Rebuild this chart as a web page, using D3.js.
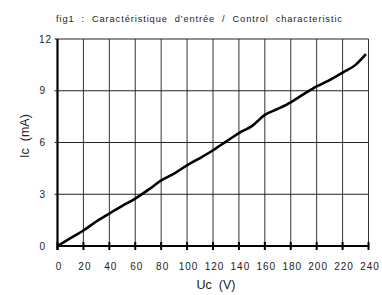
<!DOCTYPE html>
<html><head><meta charset="utf-8">
<script src="https://cdn.jsdelivr.net/npm/d3@7"></script>
<style>body{margin:0;background:#fff}svg{display:block;font-family:"Liberation Sans",Arial,sans-serif}</style>
</head><body><svg id="c" width="382" height="295"></svg>
<script>
const uc = [0,10,20,30,40,50,60,70,80,90,100,110,120,130,140,150,160,170,180,190,200,210,220,230,238];
const ic = [0,0.45,0.9,1.42,1.88,2.32,2.75,3.25,3.8,4.2,4.68,5.1,5.55,6.05,6.55,6.95,7.6,7.95,8.33,8.8,9.25,9.62,10.05,10.5,11.12];
const xTicks = [0,20,40,60,80,100,120,140,160,180,200,220,240];
const yTicks = [0,3,6,9,12];
const title = "fig1  :  Caractéristique  d'entrée  /  Control  characteristic";

const svg = d3.select("#c");
const x = d3.scaleLinear().domain([0,240]).range([57.5,368.5]);
const y = d3.scaleLinear().domain([0,12]).range([246,39]);

svg.append("text").attr("x",56).attr("y",22).attr("font-size",9.3).attr("fill","#222")
  .attr("textLength",286).attr("lengthAdjust","spacing")
  .style("white-space","pre").text(title);

const g = svg.append("g");
g.selectAll("line.v").data(xTicks.slice(1)).join("line")
  .attr("x1",d=>x(d)).attr("x2",d=>x(d)).attr("y1",y(12)).attr("y2",y(0))
  .attr("stroke","#333").attr("stroke-width",1);
g.selectAll("line.h").data(yTicks.slice(1)).join("line")
  .attr("x1",x(0)-3).attr("x2",x(240)).attr("y1",d=>y(d)).attr("y2",d=>y(d))
  .attr("stroke","#222").attr("stroke-width",1);
g.append("line").attr("x1",x(0)).attr("x2",x(240)).attr("y1",y(0)).attr("y2",y(0)).attr("stroke","#000").attr("stroke-width",2);
g.selectAll("line.t").data(xTicks).join("line")
  .attr("x1",d=>x(d)).attr("x2",d=>x(d)).attr("y1",y(0)-4).attr("y2",y(0)+4)
  .attr("stroke","#000").attr("stroke-width",2);
g.append("line").attr("x1",x(0)).attr("x2",x(0)).attr("y1",y(12)).attr("y2",y(0)+4).attr("stroke","#000").attr("stroke-width",2.2);

g.selectAll("text.x").data(xTicks).join("text")
  .attr("x",d=>x(d)+1.5).attr("y",270).attr("text-anchor","middle").attr("font-size",10)
  .attr("letter-spacing",1).attr("fill","#222").text(d=>d);
g.selectAll("text.y").data(yTicks).join("text")
  .attr("x",d=>d>=10?52:46).attr("y",d=>y(d)+3.5).attr("text-anchor","end").attr("font-size",10)
  .attr("letter-spacing",1).attr("fill","#222").text(d=>d);

svg.append("text").attr("x",216).attr("y",289).attr("text-anchor","middle").attr("font-size",12.5)
  .attr("fill","#222").style("white-space","pre").text("Uc  (V)");
svg.append("text").attr("transform","translate(29,136) rotate(-90)").attr("text-anchor","middle")
  .attr("font-size",12.5).attr("fill","#222").style("white-space","pre").text("Ic  (mA)");

const line = d3.line().x((d,i)=>x(uc[i])).y(d=>y(d)).curve(d3.curveMonotoneX);
svg.append("path").attr("d",line(ic)).attr("fill","none").attr("stroke","#000").attr("stroke-width",2.6).attr("stroke-linejoin","round");
</script></body></html>
